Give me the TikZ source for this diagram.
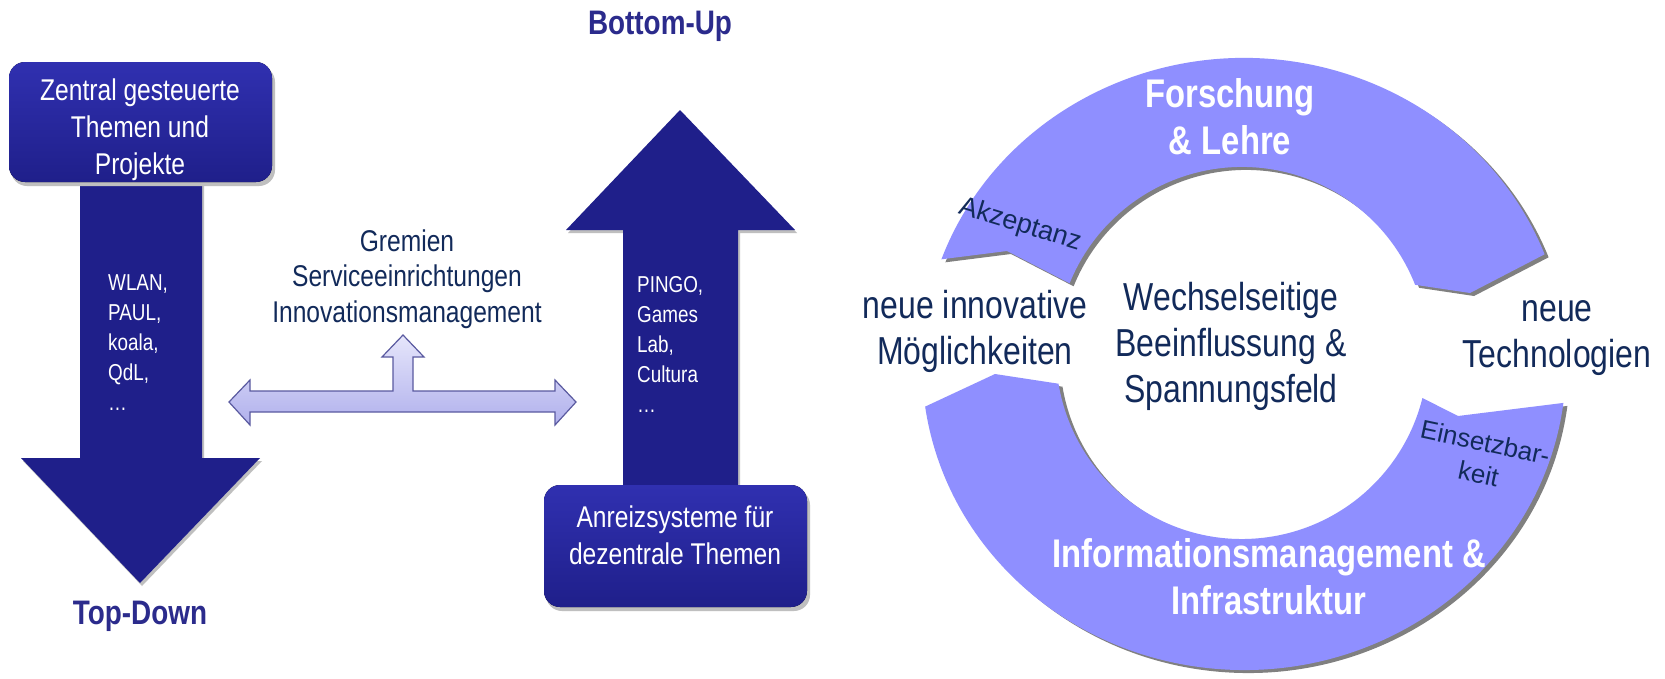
\documentclass[tikz,border=0pt]{standalone}
\usepackage{fontspec}
\setmainfont{Liberation Sans}
\newfontfamily\nar{Liberation Sans}[FakeStretch=0.82]
\newcommand\fsz[2]{\fontsize{#1}{#2}\selectfont}
\definecolor{navy}{RGB}{31,31,138}
\definecolor{navytop}{RGB}{48,48,176}
\definecolor{ttl}{RGB}{43,43,140}
\definecolor{txt}{RGB}{18,42,90}
\definecolor{ringcol}{RGB}{143,143,255}
\definecolor{ringsh}{RGB}{128,128,128}
\definecolor{lav1}{RGB}{230,230,251}
\definecolor{lav2}{RGB}{176,176,236}
\definecolor{lavd}{RGB}{90,90,160}
\tikzset{
  darkarrow/.style={fill=navy},
  dbox/.style={top color=navytop, bottom color=navy, rounded corners=16pt},
  boxtext/.style={text=white, align=center, inner sep=0, font={\nar\fsz{30}{37}}},
  listtext/.style={text=white, align=left, inner sep=0, anchor=west, font={\nar\fsz{23}{30}}},
  title/.style={text=ttl, inner sep=0, font={\nar\bfseries\fsz{34}{40}}},
  midtext/.style={text=txt, align=center, inner sep=0, font={\nar\fsz{30}{35.5}}},
  ringtext/.style={text=white, align=center, inner sep=0, font={\nar\bfseries\fsz{40}{47}}},
  navytext/.style={text=txt, align=center, inner sep=0, font={\nar\fsz{39}{46}}},
  smalltext/.style={text=txt, align=center, inner sep=0, font={\fsz{26}{32}}},
  lavarrow/.style={top color=lav1, bottom color=lav2, draw=lavd, line width=1.2pt, line join=miter},
}
\begin{document}
\begin{tikzpicture}[x=1pt,y=-1pt]
\useasboundingbox (0,0) rectangle (1665,678);
\fill[white] (0,0) rectangle (1665,678);

% ---------- left: top-down arrow ----------
\fill[black!25, shift={(2,3)}] (80,170) -- (202,170) -- (202,458) -- (260,458) -- (140,583) -- (21,458) -- (80,458) -- cycle;
\fill[darkarrow] (80,170) -- (202,170) -- (202,458) -- (260,458) -- (140,583) -- (21,458) -- (80,458) -- cycle;
\fill[black!25, rounded corners=16pt] (11,66) rectangle (275,186);
\fill[dbox] (9,62) rectangle (272,182);
\node[boxtext] (zentral) at (140,130) {Zentral gesteuerte\\Themen und\\Projekte};
\node[listtext] (wlan) at (108,343) {WLAN,\\PAUL,\\koala,\\QdL,\\…};
\node[title] (topdown) at (140,616) {Top-Down};

% ---------- right: bottom-up arrow ----------
\fill[black!25, shift={(2,3)}] (623,495) -- (623,230) -- (566,230) -- (680,110) -- (795,230) -- (738,230) -- (738,495) -- cycle;
\fill[darkarrow] (623,495) -- (623,230) -- (566,230) -- (680,110) -- (795,230) -- (738,230) -- (738,495) -- cycle;
\fill[black!25, rounded corners=16pt] (546,489) rectangle (810,611);
\fill[dbox] (544,485) rectangle (807,607);
\node[boxtext] (anreiz) at (675,535) {Anreizsysteme für\\dezentrale Themen};
\node[listtext] (pingo) at (637,344) {PINGO,\\Games\\Lab,\\Cultura\\…};
\node[title] (bottomup) at (660,26) {Bottom-Up};

% ---------- middle ----------
\node[midtext] (gremien) at (407,279) {Gremien\\Serviceeinrichtungen\\Innovationsmanagement};
\draw[lavarrow] (229,402) -- (250,380) -- (250,391) -- (393,391) -- (393,357) -- (382,357) -- (403,335) -- (424,357) -- (413,357) -- (413,391) -- (555,391) -- (555,380) -- (576,402) -- (555,425) -- (555,412) -- (250,412) -- (250,425) -- cycle;

% ---------- ring ----------
\foreach \dx/\dy/\col in {4/3/ringsh, 0/0/ringcol}{
  \fill[\col, shift={(\dx,\dy)}]
    (941.4,259.3) arc[start angle=-160, end angle=-21, x radius=322, y radius=306]
    -- (1470,293) -- (1415.1,284.8) arc[start angle=-21.5, end angle=-158, radius=186]
    -- (1007,251) -- cycle;
  \fill[\col, shift={(\dx,\dy)}]
    (1563.4,402.9) arc[start angle=7.3, end angle=172, x radius=322, y radius=306]
    -- (995,374) -- (1058.5,383.7) arc[start angle=170.5, end angle=14, radius=186]
    -- (1458,416) -- cycle;
}
\node[ringtext] (forschung) at (1230,117) {Forschung\\\& Lehre};
\node[ringtext] (infoman) at (1269,577) {Informationsmanagement \&\\Infrastruktur};
\node[navytext] (wechsel) at (1231,346) {Wechselseitige\\Beeinflussung \&\\Spannungsfeld};
\node[navytext] (innov) at (975,331) {neue innovative\\Möglichkeiten};
\node[navytext] (tech) at (1557,338) {neue\\Technologien};
\node[smalltext, font={\fsz{27}{32}}, rotate=-17] (akz) at (1020,225) {Akzeptanz};
\node[smalltext, rotate=-12] (einsetz) at (1482,458) {Einsetzbar-\\keit};
\end{tikzpicture}
\end{document}
